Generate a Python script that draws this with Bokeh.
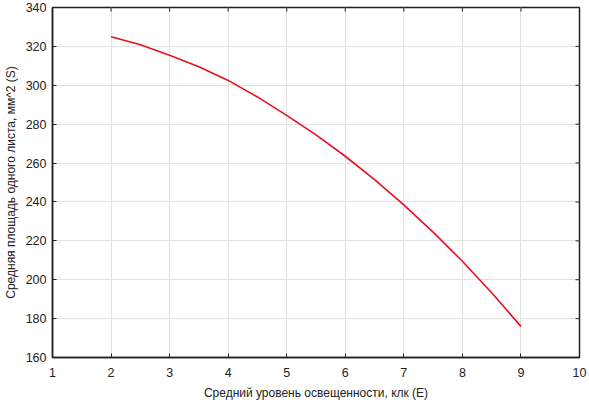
import math
from bokeh.plotting import figure
from bokeh.models import Range1d, FixedTicker
from bokeh.embed import file_html
from bokeh.resources import INLINE

# Data
illuminance = [2.0, 2.5, 3.0, 3.5, 4.0, 4.5, 5.0, 5.5, 6.0, 6.5, 7.0, 7.5, 8.0, 8.5, 9.0]
leaf_area = [325.0, 320.8, 315.5, 309.5, 302.5, 294.0, 284.5, 274.5, 263.5, 251.5,
             238.5, 224.5, 209.5, 193.3, 176.0]
x_ticks = [1, 2, 3, 4, 5, 6, 7, 8, 9, 10]
y_ticks = [160, 180, 200, 220, 240, 260, 280, 300, 320, 340]

FONT = "Liberation Sans"
DARK = "#222222"

p = figure(width=589, height=402, output_backend="svg", toolbar_location=None,
           x_range=Range1d(x_ticks[0], x_ticks[-1]), y_range=Range1d(y_ticks[0], y_ticks[-1]),
           min_border_top=7, min_border_right=10, min_border_left=0, min_border_bottom=44)
p.background_fill_color = "white"
p.border_fill_color = "white"
p.outline_line_color = DARK
p.outline_line_width = 1.5

p.xgrid.ticker = FixedTicker(ticks=x_ticks)
p.ygrid.ticker = FixedTicker(ticks=y_ticks)
p.grid.grid_line_color = "#e2e2e2"
p.grid.grid_line_width = 1

p.line(illuminance, leaf_area, line_color="#e8101c", line_width=1.6, line_join="round")

# inward tick marks on the top and right frame edges (clipped to the frame)
p.scatter(x=x_ticks, y=[y_ticks[-1]] * len(x_ticks), marker="dash", angle=math.pi / 2,
          size=8, line_color=DARK, line_width=1)
p.scatter(x=[x_ticks[-1]] * len(y_ticks), y=y_ticks, marker="dash",
          size=8, line_color=DARK, line_width=1)

for ax, ticks in ((p.xaxis[0], x_ticks), (p.yaxis[0], y_ticks)):
    ax.ticker = FixedTicker(ticks=ticks)
    ax.major_tick_in = 4
    ax.major_tick_out = 0
    ax.minor_tick_in = 0
    ax.minor_tick_out = 0
    ax.axis_line_color = DARK
    ax.axis_line_width = 1.5
    ax.major_tick_line_color = DARK
    ax.major_label_text_font = FONT
    ax.major_label_text_font_size = "12.5px"
    ax.major_label_text_color = DARK
    ax.axis_label_text_font = FONT
    ax.axis_label_text_font_size = "12px"
    ax.axis_label_text_font_style = "normal"
    ax.axis_label_text_color = DARK

p.xaxis[0].axis_label = "Средний уровень освещенности, клк (E)"
p.yaxis[0].axis_label = "Средняя площадь одного листа, мм^2 (S)"
p.xaxis[0].major_label_standoff = 10
p.xaxis[0].axis_label_standoff = 6
p.yaxis[0].major_label_standoff = 6
p.yaxis[0].axis_label_standoff = 5

open("out.html", "w").write(file_html(p, INLINE))
